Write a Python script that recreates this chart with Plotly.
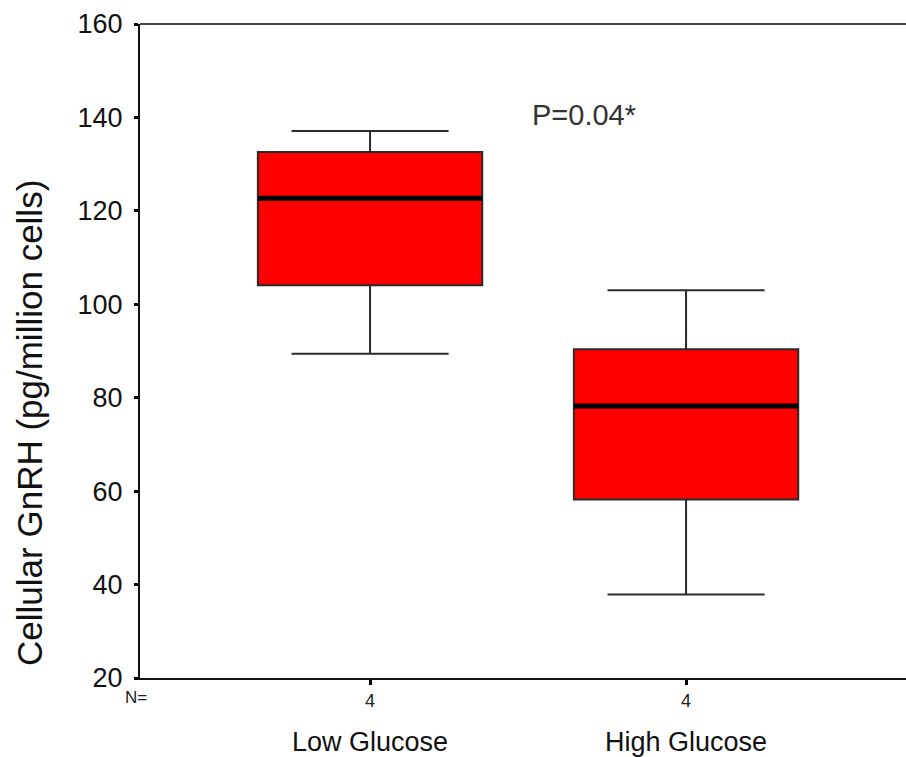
import plotly.graph_objects as go

# ---- data ----
groups = ["Low Glucose", "High Glucose"]
n_counts = ["4", "4"]
lower_whisker = [89.4, 37.9]
q1_vals = [104.1, 58.2]
median_vals = [122.7, 78.2]
q3_vals = [132.6, 90.4]
upper_whisker = [137.1, 103.0]
y_ticks = [20, 40, 60, 80, 100, 120, 140, 160]
p_text = "P=0.04*"

FONT = "Liberation Sans, Arial, sans-serif"
BOX_W = 0.71
pos = list(range(len(groups)))

fig = go.Figure()
fig.add_trace(go.Box(
    x=pos,
    q1=q1_vals, median=median_vals, q3=q3_vals,
    lowerfence=lower_whisker, upperfence=upper_whisker,
    width=BOX_W, whiskerwidth=0.70,
    fillcolor="#ff0000",
    line=dict(color="#2a2a2a", width=2),
    boxpoints=False, hoverinfo="skip", showlegend=False,
))

shapes = []
for i, m in zip(pos, median_vals):
    shapes.append(dict(type="line", xref="x", yref="y",
                       x0=i - BOX_W / 2, x1=i + BOX_W / 2, y0=m, y1=m,
                       line=dict(color="black", width=5), layer="above"))
# top frame line
shapes.append(dict(type="line", xref="paper", yref="paper", x0=0, x1=1, y0=1, y1=1,
                   line=dict(color="#444", width=2)))

annotations = []
for i, g in zip(pos, groups):
    annotations.append(dict(x=i, y=0, xref="x", yref="paper", text=g, showarrow=False,
                            xanchor="center", yanchor="middle", yshift=-64,
                            font=dict(family=FONT, size=27, color="#111")))
annotations.append(dict(x=0, y=0, xref="paper", yref="paper", text="N=", showarrow=False,
                        xanchor="center", yanchor="middle", yshift=-19, xshift=-4,
                        font=dict(family=FONT, size=17, color="#222")))
annotations.append(dict(x=0.677, y=140.5, xref="x", yref="y", text=p_text, showarrow=False,
                        xanchor="center", yanchor="middle",
                        font=dict(family=FONT, size=29, color="#333")))
annotations.append(dict(x=0, y=0.39, xref="paper", yref="paper",
                        text="Cellular GnRH (pg/million cells)", showarrow=False,
                        textangle=-90, xanchor="center", yanchor="middle", xshift=-110,
                        font=dict(family=FONT, size=35, color="#111")))

fig.update_layout(
    width=906, height=757,
    margin=dict(l=140, r=0, t=24, b=79),
    paper_bgcolor="white", plot_bgcolor="white",
    shapes=shapes, annotations=annotations,
    xaxis=dict(range=[-0.728, 1.696], tickmode="array", tickvals=pos, ticktext=n_counts,
               showgrid=False, zeroline=False, showline=True, linecolor="#111", linewidth=2,
               ticks="outside", ticklen=5, tickwidth=3, tickcolor="black",
               tickfont=dict(family=FONT, size=18, color="#222")),
    yaxis=dict(range=[20, 160], tickmode="array", tickvals=y_ticks,
               showgrid=False, zeroline=False, showline=True, linecolor="#111", linewidth=2,
               ticks="outside", ticklen=4, tickwidth=3, tickcolor="black",
               ticklabelstandoff=6,
               tickfont=dict(family=FONT, size=27, color="#111")),
)

fig.write_html("out.html", config={"displayModeBar": False},
               post_script="document.body.style.margin='0';document.body.style.padding='0';")
